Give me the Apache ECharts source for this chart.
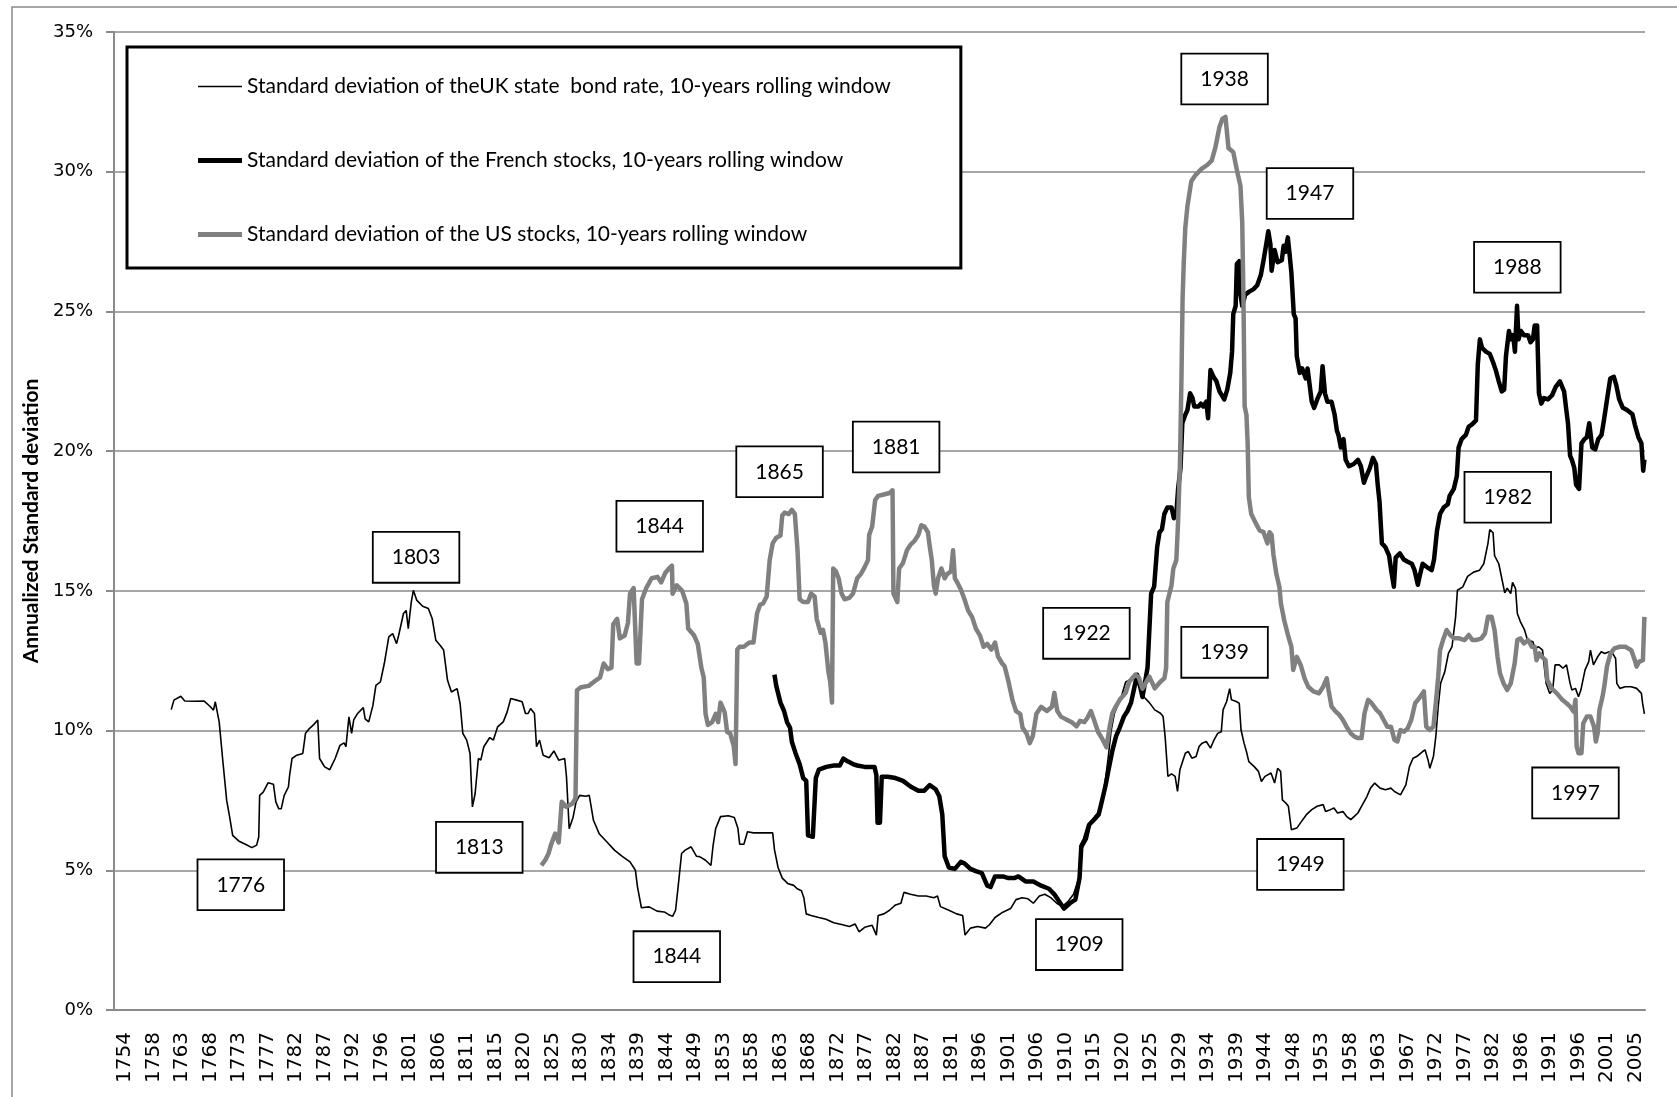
<!DOCTYPE html>
<html>
<head>
<meta charset="utf-8">
<script src="https://cdn.jsdelivr.net/npm/echarts@6/dist/echarts.min.js"></script>
<style>
  html, body { margin: 0; padding: 0; background: #fff; }
  #chart { width: 1677px; height: 1097px; }
</style>
</head>
<body>
<div id="chart"></div>
<script>
// series names as in the legend
const seriesNames = [
  "Standard deviation of theUK state  bond rate, 10-years rolling window",
  "Standard deviation of the French stocks, 10-years rolling window",
  "Standard deviation of the US stocks, 10-years rolling window"
];

// [year, annualized std dev in %]
const ukBond = [[1763.0,10.75],[1763.45,11.09],[1764.6,11.23],[1765.25,11.06],[1766.85,11.05],[1768.45,11.06],[1769.45,10.87],[1770.05,10.73],[1770.35,11.03],[1770.65,11.09],[1771.0,10.31],[1771.65,8.82],[1772.25,7.5],[1772.75,6.9],[1773.25,6.25],[1774.25,6.05],[1775.45,5.92],[1776.45,5.81],[1777.25,5.9],[1777.6,6.19],[1777.75,7.68],[1778.35,7.8],[1779.15,8.13],[1780.05,8.08],[1780.45,7.45],[1780.95,7.2],[1781.35,7.2],[1781.85,7.68],[1782.55,7.98],[1782.75,8.4],[1783.15,9.0],[1783.95,9.12],[1784.95,9.18],[1785.4,9.9],[1786.05,10.07],[1786.85,10.23],[1787.45,10.38],[1787.75,9.0],[1788.6,8.7],[1789.45,8.6],[1790.35,9.0],[1791.15,9.47],[1791.85,9.56],[1792.15,9.42],[1792.65,10.49],[1793.1,9.9],[1793.45,10.38],[1794.05,10.6],[1795.05,10.82],[1795.35,10.42],[1795.95,10.31],[1796.65,10.9],[1797.15,11.62],[1797.9,11.74],[1798.55,12.4],[1799.3,13.35],[1799.95,13.47],[1800.6,13.11],[1800.95,13.41],[1801.75,14.19],[1802.2,14.3],[1802.55,13.65],[1803.05,14.6],[1803.4,15.02],[1803.95,14.67],[1804.95,14.45],[1805.9,14.37],[1806.55,14.0],[1807.15,13.23],[1807.85,13.05],[1808.45,12.88],[1809.1,11.8],[1809.75,11.38],[1810.7,11.5],[1811.2,10.97],[1811.65,9.9],[1812.3,9.66],[1812.85,9.18],[1813.25,7.27],[1813.7,7.74],[1814.25,9.0],[1814.65,8.94],[1815.15,9.42],[1816.15,9.75],[1816.75,9.66],[1817.45,10.13],[1818.4,10.31],[1819.05,10.67],[1819.65,11.15],[1820.65,11.09],[1821.55,11.03],[1822.1,10.61],[1822.55,10.61],[1822.95,10.79],[1823.6,10.61],[1823.95,9.42],[1824.45,9.66],[1825.05,9.12],[1826.05,9.03],[1826.85,9.27],[1827.65,8.94],[1828.65,9.0],[1828.95,8.34],[1829.4,6.49],[1830.05,6.9],[1830.55,7.45],[1831.15,7.68],[1832.15,7.65],[1832.75,7.68],[1833.45,6.79],[1834.4,6.31],[1835.7,6.01],[1836.95,5.72],[1838.25,5.5],[1839.55,5.3],[1840.45,5.0],[1840.8,4.4],[1841.45,3.66],[1842.75,3.69],[1844.05,3.54],[1845.25,3.51],[1845.95,3.42],[1846.65,3.35],[1847.15,3.57],[1847.6,4.46],[1848.15,5.6],[1848.75,5.72],[1849.75,5.84],[1850.65,5.5],[1851.15,5.49],[1852.15,5.36],[1853.05,5.17],[1853.4,5.87],[1853.85,6.5],[1854.65,6.92],[1855.95,6.95],[1856.95,6.89],[1857.55,6.5],[1857.85,5.93],[1858.55,5.93],[1859.15,6.38],[1860.15,6.34],[1861.05,6.34],[1863.35,6.34],[1863.65,5.74],[1864.25,5.1],[1864.95,4.72],[1865.85,4.53],[1866.85,4.46],[1867.45,4.34],[1868.15,4.27],[1868.55,4.02],[1868.95,3.44],[1869.75,3.38],[1871.05,3.31],[1872.25,3.25],[1873.55,3.12],[1874.85,3.06],[1876.15,2.99],[1877.1,3.08],[1877.75,2.8],[1878.7,2.96],[1879.95,3.03],[1880.65,2.68],[1880.95,3.38],[1881.9,3.44],[1882.85,3.57],[1883.85,3.76],[1884.75,3.82],[1885.25,4.21],[1886.35,4.14],[1887.65,4.08],[1888.95,4.08],[1890.25,4.02],[1890.85,4.08],[1891.35,3.7],[1892.75,3.57],[1894.05,3.44],[1895.05,3.38],[1895.45,2.68],[1896.35,2.93],[1897.55,2.99],[1898.85,2.93],[1899.55,3.06],[1900.45,3.31],[1901.75,3.5],[1903.05,3.63],[1903.95,3.95],[1904.95,4.02],[1905.95,3.98],[1906.85,3.82],[1907.85,4.08],[1908.75,4.14],[1909.75,4.02],[1910.75,3.82],[1911.65,3.7],[1912.65,3.89],[1913.55,4.14],[1914.45,4.72],[1914.85,5.74],[1915.85,6.12],[1916.45,6.7],[1917.15,6.95],[1918.05,7.15],[1918.75,8.04],[1919.35,9.06],[1919.8,9.96],[1920.35,10.6],[1921.55,11.23],[1922.25,11.74],[1923.55,11.87],[1924.45,11.74],[1925.3,11.2],[1926.2,11.0],[1927.1,10.74],[1928.05,10.62],[1928.5,10.5],[1928.85,9.73],[1929.3,8.36],[1929.9,8.45],[1930.5,8.36],[1930.9,7.82],[1931.3,8.6],[1932.2,9.19],[1932.7,9.25],[1933.3,9.01],[1934.0,9.07],[1934.5,9.43],[1935.0,9.55],[1935.7,9.61],[1936.4,9.37],[1937.0,9.67],[1937.6,9.9],[1938.2,9.96],[1938.5,10.74],[1939.1,11.04],[1939.6,11.5],[1939.9,11.1],[1940.7,11.04],[1941.2,10.98],[1941.5,10.02],[1942.0,9.55],[1942.4,9.25],[1942.8,8.89],[1943.7,8.71],[1944.4,8.54],[1944.9,8.18],[1945.5,8.36],[1946.5,8.48],[1947.1,8.12],[1947.6,8.65],[1948.1,8.54],[1948.4,7.52],[1949.0,7.4],[1949.4,7.29],[1949.9,6.45],[1950.8,6.51],[1951.6,6.75],[1952.4,6.99],[1953.3,7.17],[1954.2,7.29],[1955.2,7.35],[1955.6,7.1],[1956.4,7.17],[1957.0,7.23],[1957.6,7.05],[1958.5,7.1],[1959.1,6.93],[1959.8,6.81],[1960.4,6.93],[1961.0,7.05],[1961.6,7.29],[1962.5,7.64],[1963.1,7.94],[1963.8,8.12],[1964.7,7.94],[1965.6,7.88],[1966.5,7.94],[1967.1,7.82],[1968.1,7.7],[1968.4,7.64],[1969.0,8.06],[1969.6,8.71],[1970.2,9.01],[1970.8,9.07],[1971.8,9.25],[1972.2,9.31],[1972.7,8.95],[1973.0,8.65],[1973.6,9.07],[1974.0,9.79],[1974.4,10.86],[1974.8,11.69],[1975.5,12.11],[1976.1,12.76],[1976.7,13.0],[1977.3,14.07],[1977.6,15.02],[1978.5,15.14],[1979.3,15.52],[1980.3,15.67],[1981.3,15.74],[1982.0,15.97],[1982.7,16.7],[1983.0,17.19],[1983.55,17.08],[1983.8,16.26],[1984.5,15.97],[1985.0,15.45],[1985.5,14.93],[1985.9,15.1],[1986.5,14.9],[1986.8,15.3],[1987.3,15.08],[1987.6,14.19],[1988.1,13.9],[1988.8,13.6],[1989.3,13.24],[1990.2,13.18],[1990.5,12.94],[1991.15,13.0],[1991.8,12.88],[1992.4,11.69],[1993.0,11.33],[1993.5,11.45],[1993.9,12.35],[1994.6,12.35],[1995.2,12.23],[1995.8,12.35],[1996.4,11.69],[1996.7,11.45],[1997.3,11.51],[1997.8,11.21],[1998.2,11.45],[1998.9,12.17],[1999.5,12.46],[1999.8,12.88],[2000.3,12.35],[2001.0,12.64],[2001.6,12.82],[2002.2,12.76],[2002.9,12.82],[2003.5,12.76],[2004.0,12.58],[2004.2,11.69],[2004.7,11.51],[2005.6,11.57],[2006.6,11.57],[2007.5,11.51],[2008.3,11.33],[2008.5,10.98],[2008.8,10.6]];

const frStocks = [[1863.65,12.0],[1863.95,11.6],[1864.65,11.0],[1865.25,10.7],[1865.75,10.3],[1866.25,10.1],[1866.55,9.6],[1867.15,9.2],[1867.85,8.8],[1868.45,8.3],[1868.95,8.2],[1869.25,6.25],[1870.05,6.2],[1870.55,8.3],[1871.05,8.6],[1872.3,8.7],[1873.55,8.75],[1874.55,8.75],[1875.15,9.0],[1875.85,8.9],[1876.75,8.8],[1877.45,8.75],[1878.7,8.7],[1880.35,8.7],[1880.65,8.4],[1880.85,6.7],[1881.25,6.7],[1881.55,8.35],[1882.55,8.35],[1883.85,8.3],[1885.1,8.2],[1886.35,8.0],[1887.65,7.85],[1888.65,7.85],[1889.55,8.05],[1890.55,7.9],[1891.15,7.65],[1891.65,7.0],[1892.05,5.5],[1892.75,5.1],[1893.75,5.05],[1894.75,5.3],[1895.35,5.25],[1896.35,5.05],[1897.25,4.97],[1898.25,4.9],[1899.15,4.45],[1899.7,4.4],[1900.45,4.78],[1901.75,4.78],[1902.7,4.72],[1903.65,4.72],[1904.35,4.78],[1905.55,4.6],[1906.85,4.6],[1908.15,4.45],[1909.45,4.34],[1910.35,4.14],[1911.35,3.82],[1911.95,3.63],[1912.95,3.82],[1913.85,3.95],[1914.55,4.72],[1914.85,5.87],[1915.45,6.12],[1916.15,6.63],[1917.05,6.83],[1917.75,7.0],[1918.35,7.53],[1918.9,8.04],[1919.35,8.55],[1920.05,9.3],[1920.65,9.8],[1921.25,10.1],[1921.95,10.5],[1922.55,10.7],[1923.15,11.0],[1923.65,11.5],[1924.15,12.0],[1924.75,11.5],[1925.05,11.2],[1925.9,12.25],[1926.2,13.6],[1926.5,14.9],[1927.0,15.15],[1927.5,16.56],[1927.9,17.1],[1928.3,17.2],[1928.7,17.75],[1929.2,17.98],[1929.9,17.98],[1930.3,17.6],[1930.7,17.75],[1931.0,18.65],[1931.4,19.4],[1931.7,21.0],[1932.2,21.3],[1932.55,21.47],[1933.0,22.07],[1933.4,21.9],[1933.7,21.6],[1934.4,21.6],[1934.8,21.7],[1935.2,21.6],[1935.7,21.77],[1936.0,21.18],[1936.4,22.9],[1936.9,22.66],[1937.4,22.5],[1937.9,22.14],[1938.2,22.07],[1938.7,21.85],[1939.2,22.2],[1939.7,22.8],[1940.0,23.56],[1940.2,24.9],[1940.6,25.2],[1940.8,26.7],[1941.2,26.8],[1941.4,25.6],[1941.7,25.2],[1942.2,25.6],[1942.8,25.7],[1943.6,25.8],[1944.2,25.94],[1944.8,26.3],[1945.25,26.83],[1945.7,27.4],[1946.05,27.87],[1946.4,27.4],[1946.6,26.46],[1947.1,27.2],[1947.6,26.76],[1948.3,26.83],[1948.6,27.35],[1948.9,27.13],[1949.3,27.65],[1949.6,27.05],[1949.9,26.38],[1950.3,24.9],[1950.6,24.75],[1950.8,23.4],[1951.3,22.8],[1951.7,22.96],[1952.3,22.6],[1952.6,22.96],[1953.3,21.77],[1953.7,21.55],[1954.3,21.9],[1954.8,22.14],[1955.1,23.04],[1955.5,22.07],[1955.9,21.77],[1956.6,21.77],[1957.1,21.32],[1957.5,20.73],[1957.75,20.58],[1958.15,20.13],[1958.6,20.43],[1958.95,19.69],[1959.5,19.46],[1960.3,19.54],[1961.0,19.69],[1961.5,19.46],[1962.0,18.87],[1962.4,19.1],[1963.0,19.4],[1963.5,19.76],[1964.0,19.54],[1964.3,18.8],[1964.6,18.2],[1965.0,16.7],[1965.6,16.56],[1966.2,16.26],[1966.6,15.67],[1967.0,15.15],[1967.3,16.19],[1968.0,16.34],[1968.65,16.12],[1969.3,16.04],[1970.0,15.97],[1970.45,15.74],[1971.0,15.22],[1971.3,15.52],[1971.8,15.97],[1972.7,15.82],[1973.3,15.74],[1973.7,16.12],[1974.2,17.16],[1974.7,17.75],[1975.3,17.98],[1976.0,18.1],[1976.3,18.4],[1977.0,18.65],[1977.5,19.1],[1977.8,20.13],[1978.3,20.43],[1979.0,20.58],[1979.5,20.88],[1980.0,20.95],[1980.7,21.1],[1981.0,23.1],[1981.35,24.0],[1981.7,23.7],[1982.35,23.56],[1983.0,23.48],[1983.55,23.18],[1984.0,22.9],[1984.5,22.5],[1985.0,22.14],[1985.4,22.2],[1985.7,23.4],[1986.2,24.3],[1986.5,24.0],[1986.9,24.15],[1987.2,23.56],[1987.55,25.2],[1987.8,24.0],[1988.2,24.3],[1988.7,24.15],[1989.4,24.15],[1989.8,23.9],[1990.2,24.0],[1990.5,24.5],[1990.9,24.5],[1991.2,22.07],[1991.6,21.7],[1992.05,21.9],[1992.7,21.85],[1993.4,22.0],[1994.0,22.3],[1994.7,22.5],[1995.4,22.14],[1995.7,21.6],[1996.05,21.0],[1996.4,19.84],[1996.7,19.69],[1997.1,19.4],[1997.4,18.8],[1997.9,18.65],[1998.3,20.28],[1998.8,20.43],[1999.2,20.5],[1999.6,21.0],[2000.1,20.13],[2000.6,20.06],[2001.1,20.43],[2001.65,20.58],[2002.1,21.18],[2002.6,21.9],[2003.1,22.6],[2003.7,22.66],[2004.1,22.37],[2004.6,21.85],[2005.2,21.55],[2005.9,21.47],[2006.8,21.32],[2007.2,20.95],[2007.8,20.5],[2008.3,20.28],[2008.6,19.3],[2008.8,19.7]];

const usStocks = [[1824.75,5.18],[1825.4,5.36],[1825.95,5.6],[1826.35,5.9],[1827.05,6.31],[1827.65,6.0],[1827.95,6.0],[1828.15,7.45],[1828.95,7.27],[1829.95,7.39],[1830.45,7.57],[1830.7,11.44],[1831.35,11.55],[1832.65,11.6],[1833.55,11.75],[1834.55,11.9],[1835.15,12.4],[1835.85,12.2],[1836.45,12.25],[1836.75,13.8],[1837.4,14.0],[1837.85,13.3],[1838.65,13.4],[1839.2,13.85],[1839.55,14.9],[1840.15,15.1],[1840.65,12.4],[1841.05,12.4],[1841.55,14.7],[1842.25,15.1],[1843.15,15.45],[1844.15,15.5],[1844.75,15.3],[1845.45,15.65],[1846.05,15.8],[1846.55,15.9],[1846.65,14.9],[1847.35,15.2],[1848.25,15.0],[1848.95,14.55],[1849.25,13.65],[1850.25,13.4],[1850.85,13.1],[1851.45,12.25],[1851.85,11.9],[1852.15,10.6],[1852.55,10.2],[1853.25,10.3],[1853.85,10.6],[1854.25,10.3],[1854.65,11.0],[1855.35,10.65],[1855.75,9.95],[1856.25,9.9],[1856.85,9.45],[1857.15,8.8],[1857.45,12.9],[1857.85,13.0],[1858.55,13.0],[1859.45,13.15],[1860.15,13.15],[1860.75,14.2],[1861.25,14.5],[1861.75,14.55],[1862.35,14.8],[1862.85,16.1],[1863.35,16.7],[1863.95,16.9],[1864.65,16.98],[1864.95,17.7],[1865.35,17.8],[1866.05,17.75],[1866.55,17.9],[1867.05,17.75],[1867.5,16.45],[1867.85,14.7],[1868.45,14.6],[1869.25,14.6],[1869.75,14.9],[1870.35,14.8],[1870.7,14.0],[1871.35,13.5],[1871.75,13.6],[1872.15,13.15],[1872.65,12.1],[1872.95,11.75],[1873.25,11.0],[1873.45,15.8],[1873.9,15.7],[1874.35,15.45],[1874.85,14.9],[1875.35,14.7],[1876.15,14.75],[1876.75,14.9],[1877.45,15.45],[1878.05,15.6],[1878.7,15.85],[1879.25,16.1],[1879.45,17.0],[1879.95,17.3],[1880.45,18.25],[1880.95,18.4],[1881.9,18.45],[1882.85,18.5],[1883.35,18.6],[1883.5,14.9],[1884.15,14.6],[1884.45,15.8],[1885.1,16.0],[1885.75,16.45],[1886.35,16.65],[1887.05,16.8],[1887.65,17.0],[1888.15,17.35],[1888.65,17.3],[1889.25,17.1],[1889.55,16.6],[1889.9,16.1],[1890.25,15.2],[1890.55,14.9],[1890.95,15.45],[1891.5,15.8],[1892.05,15.45],[1892.45,15.6],[1893.1,15.7],[1893.45,16.45],[1893.75,15.45],[1894.15,15.3],[1894.75,15.05],[1895.35,14.7],[1895.95,14.3],[1896.65,14.05],[1897.25,13.65],[1897.95,13.4],[1898.55,13.0],[1899.15,13.1],[1899.85,12.9],[1900.45,13.15],[1900.95,12.65],[1901.65,12.4],[1902.05,12.3],[1902.7,11.75],[1903.35,11.1],[1903.95,10.7],[1904.65,10.6],[1905.05,10.1],[1905.7,9.9],[1906.25,9.55],[1906.75,9.8],[1907.35,10.6],[1908.15,10.85],[1909.1,10.7],[1909.95,10.85],[1910.35,11.35],[1910.85,10.7],[1911.45,10.5],[1912.3,10.4],[1913.25,10.3],[1914.05,10.15],[1914.65,10.35],[1915.35,10.3],[1915.85,10.45],[1916.45,10.7],[1916.95,10.4],[1917.65,9.95],[1918.35,9.7],[1919.05,9.4],[1919.55,10.1],[1920.0,10.6],[1920.45,10.8],[1921.25,11.1],[1922.25,11.35],[1922.85,11.75],[1923.85,12.0],[1924.45,11.9],[1925.05,11.5],[1926.2,11.93],[1927.1,11.51],[1928.05,11.75],[1928.7,11.87],[1929.0,12.23],[1929.2,14.6],[1929.9,15.2],[1930.2,15.8],[1930.7,16.1],[1931.0,17.5],[1931.3,19.5],[1931.55,22.5],[1931.75,25.5],[1931.95,26.8],[1932.2,28.0],[1932.55,28.76],[1933.2,29.66],[1933.9,29.88],[1934.9,30.1],[1935.9,30.25],[1936.6,30.4],[1937.2,30.85],[1937.9,31.6],[1938.4,31.9],[1938.9,31.96],[1939.4,30.85],[1940.2,30.7],[1940.9,29.96],[1941.4,29.5],[1941.7,28.17],[1941.9,25.5],[1942.1,21.6],[1942.4,21.3],[1942.6,20.3],[1942.8,18.35],[1943.2,17.75],[1943.9,17.45],[1944.6,17.16],[1945.25,17.1],[1945.9,16.7],[1946.25,17.1],[1946.6,17.0],[1946.9,16.3],[1947.4,15.6],[1947.9,15.14],[1948.15,14.55],[1948.7,13.95],[1949.4,13.36],[1949.9,13.0],[1950.2,12.17],[1950.8,12.64],[1951.45,12.35],[1952.1,11.87],[1952.7,11.57],[1953.6,11.4],[1954.5,11.33],[1955.2,11.57],[1955.8,11.87],[1956.1,11.45],[1956.6,10.86],[1957.3,10.68],[1957.9,10.56],[1958.5,10.38],[1959.1,10.14],[1959.8,9.9],[1960.4,9.79],[1961.0,9.73],[1961.6,9.73],[1962.1,10.62],[1962.7,11.1],[1963.3,10.98],[1964.1,10.74],[1964.7,10.62],[1965.3,10.38],[1965.9,10.14],[1966.5,10.14],[1967.1,9.67],[1967.6,9.61],[1968.1,10.02],[1968.7,9.96],[1969.3,10.08],[1969.9,10.38],[1970.55,10.98],[1971.0,11.1],[1971.6,11.27],[1972.0,11.4],[1972.4,10.14],[1973.0,10.02],[1973.6,10.14],[1974.05,11.1],[1974.4,11.93],[1974.7,12.88],[1975.2,13.24],[1975.8,13.6],[1976.4,13.42],[1977.0,13.3],[1977.9,13.3],[1978.8,13.24],[1979.5,13.42],[1980.1,13.24],[1980.7,13.24],[1981.6,13.3],[1982.2,13.48],[1982.7,14.07],[1983.3,14.07],[1983.8,13.6],[1984.3,12.64],[1984.7,12.05],[1985.3,11.69],[1985.9,11.45],[1986.5,11.69],[1987.15,12.4],[1987.6,13.24],[1988.1,13.3],[1988.7,13.12],[1989.4,13.24],[1990.0,13.0],[1990.5,13.0],[1990.8,12.52],[1991.3,12.76],[1991.7,12.64],[1992.3,12.52],[1992.6,11.81],[1993.3,11.51],[1994.2,11.33],[1995.1,11.1],[1995.8,10.98],[1996.4,10.86],[1997.0,10.68],[1997.3,11.1],[1997.5,9.43],[1997.8,9.19],[1998.3,9.19],[1998.6,10.26],[1999.2,10.5],[1999.8,10.5],[2000.4,10.14],[2000.7,9.61],[2001.0,9.9],[2001.3,10.74],[2001.8,11.2],[2002.1,11.57],[2002.55,12.29],[2003.15,12.76],[2003.8,12.94],[2004.7,13.0],[2005.6,13.0],[2006.6,12.88],[2007.2,12.52],[2007.5,12.29],[2007.9,12.46],[2008.55,12.52],[2008.8,14.07]];

// x-axis tick labels, one every 4.75 years
const xTickLabels = ["1754","1758","1763","1768","1773","1777","1782","1787","1792","1796","1801","1806","1811","1815","1820","1825","1830","1834","1839","1844","1849","1853","1858","1863","1868","1872","1877","1882","1887","1891","1896","1901","1906","1910","1915","1920","1925","1929","1934","1939","1944","1948","1953","1958","1963","1967","1972","1977","1982","1986","1991","1996","2001","2005"];

// annotation boxes: label, anchor year, anchor value (%)
const annoLabels = ["1776","1803","1813","1844","1844","1865","1881","1922","1909","1938","1939","1947","1988","1982","1949","1997"];
const annoYears  = [1774.6,1803.85,1814.4,1844.5,1847.35,1864.5,1883.95,1915.7,1914.5,1938.75,1938.75,1953.0,1987.6,1986.0,1951.4,1997.3];
const annoValues = [4.48,16.2,5.82,17.31,1.91,19.26,20.15,13.48,2.34,33.32,12.8,29.22,26.58,18.35,5.21,7.77];

const tickStart = 1755.3, tickStep = 4.755;
const gridGray = "#8a8a8a";

const chart = echarts.init(document.getElementById("chart"));

const option = {
  backgroundColor: "#fff",
  animation: false,
  graphic: [
    {
      type: "rect",
      shape: { x: 12, y: 7, width: 1700, height: 1100 },
      style: { fill: "none", stroke: gridGray, lineWidth: 1.5 },
      silent: true,
    },
  ],
  grid: { left: 114, right: 32, top: 32, bottom: 87 },
  legend: {
    orient: "vertical",
    left: 127,
    top: 47,
    padding: [29, 70, 23, 71],
    itemWidth: 44,
    itemHeight: 20,
    itemGap: 53,
    borderColor: "#000",
    borderWidth: 3,
    backgroundColor: "#fff",
    selectedMode: false,
    textStyle: { fontFamily: "Lato", fontSize: 21, color: "#000" },
    data: [
      { name: seriesNames[0], icon: "path://M0,0H44V1.5H0Z", itemStyle: { color: "#000" } },
      { name: seriesNames[1], icon: "path://M0,0H44V5H0Z", itemStyle: { color: "#000" } },
      { name: seriesNames[2], icon: "path://M0,0H44V5H0Z", itemStyle: { color: "#808080" } },
    ],
  },
  xAxis: {
    type: "value",
    min: 1753.45,
    max: 2008.9,
    axisLine: { show: true, onZero: false, lineStyle: { color: gridGray, width: 2 } },
    axisTick: { show: false },
    splitLine: { show: false },
    axisLabel: {
      customValues: xTickLabels.map((t, i) => tickStart + i * tickStep),
      formatter: (v) => xTickLabels[Math.round((v - tickStart) / tickStep)],
      rotate: 90,
      margin: 22,
      fontFamily: "DejaVu Sans",
      fontSize: 20,
      color: "#000",
    },
  },
  yAxis: {
    type: "value",
    min: 0,
    max: 35,
    interval: 5,
    name: "Annualized Standard deviation",
    nameLocation: "middle",
    nameGap: 72,
    nameTextStyle: { fontFamily: "Lato", fontWeight: "bold", fontSize: 21, color: "#000" },
    axisLine: { show: true, lineStyle: { color: gridGray, width: 2 } },
    axisTick: { show: true, length: 8, lineStyle: { color: gridGray, width: 2 } },
    splitLine: { show: true, lineStyle: { color: gridGray, width: 1.5 } },
    axisLabel: {
      formatter: "{value}%",
      margin: 21,
      fontFamily: "DejaVu Sans",
      fontSize: 18,
      color: "#000",
    },
  },
  series: [
    {
      name: seriesNames[0],
      type: "line",
      data: ukBond,
      symbol: "none",
      showSymbol: false,
      itemStyle: { color: "#000" },
      lineStyle: { color: "#000", width: 1.6 },
      z: 2,
    },
    {
      name: seriesNames[1],
      type: "line",
      data: frStocks,
      symbol: "none",
      showSymbol: false,
      itemStyle: { color: "#000" },
      lineStyle: { color: "#000", width: 4.5, join: "round" },
      z: 3,
    },
    {
      name: seriesNames[2],
      type: "line",
      data: usStocks,
      symbol: "none",
      showSymbol: false,
      itemStyle: { color: "#808080" },
      lineStyle: { color: "#808080", width: 4.5, join: "round" },
      z: 4,
    },
    {
      name: "annotations",
      type: "scatter",
      symbol: "rect",
      symbolSize: 1,
      silent: true,
      itemStyle: { color: "rgba(0,0,0,0)", opacity: 1 },
      z: 10,
      label: {
        show: true,
        position: "inside",
        formatter: "{b}",
        fontFamily: "Lato",
        fontSize: 21,
        lineHeight: 25,
        color: "#000",
        opacity: 1,
        backgroundColor: "#fff",
        borderColor: "#000",
        borderWidth: 1.8,
        padding: [12, 18],
      },
      labelLayout: { hideOverlap: false },
      data: annoLabels.map((t, i) => ({ name: t, value: [annoYears[i], annoValues[i]] })),
    },
  ],
};

chart.setOption(option);
</script>
</body>
</html>
